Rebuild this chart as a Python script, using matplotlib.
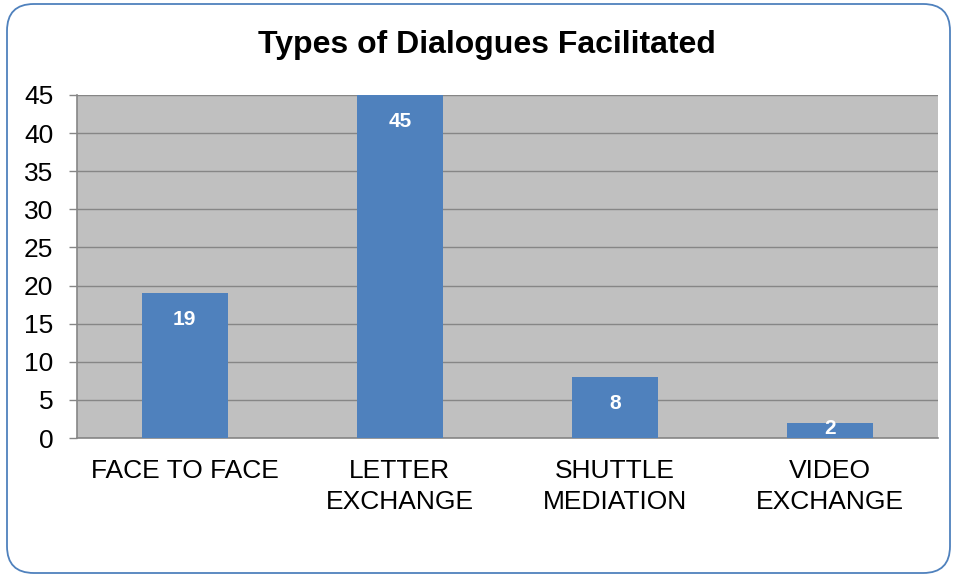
import matplotlib
matplotlib.use("Agg")
import matplotlib.pyplot as plt
from matplotlib.patches import FancyBboxPatch

categories = ["FACE TO FACE", "LETTER\nEXCHANGE", "SHUTTLE\nMEDIATION", "VIDEO\nEXCHANGE"]
values = [19, 45, 8, 2]
yticks = [0, 5, 10, 15, 20, 25, 30, 35, 40, 45]
title = "Types of Dialogues Facilitated"

plt.rcParams['font.family'] = ['Liberation Sans', 'DejaVu Sans']

fig = plt.figure(figsize=(9.57, 5.77), dpi=100)
border = FancyBboxPatch((7/957, 4/577), (950-7)/957, (573-4)/577,
                        boxstyle="round,pad=0,rounding_size=0.028",
                        transform=fig.transFigure, facecolor='none',
                        edgecolor='#4F81BD', linewidth=1.3, mutation_aspect=957/577,
                        zorder=5)
fig.patches.append(border)

ax = fig.add_axes([77/957, 1-438/577, (938-77)/957, (438-95)/577])
ax.set_facecolor('#C0C0C0')
x = range(len(categories))
ax.bar(x, values, width=0.4, color='#4F81BD', zorder=3)
ax.set_xlim(-0.5, len(categories)-0.5)
ax.set_ylim(0, 45)
ax.set_yticks(yticks)
ax.set_yticklabels([str(t) for t in yticks], fontsize=19)
ax.set_xticks(list(x))
ax.set_xticklabels(categories, fontsize=19, linespacing=1.4)
ax.tick_params(axis='x', length=0, pad=15)
ax.tick_params(axis='y', length=6, width=1, color='#868686', pad=11)
ax.grid(axis='y', color='#868686', linewidth=1, zorder=1)
for s in ['top', 'right']:
    ax.spines[s].set_visible(False)
ax.spines['left'].set_color('#868686')
ax.spines['left'].set_linewidth(1.2)
ax.spines['bottom'].set_color('#868686')
ax.spines['bottom'].set_linewidth(1.2)

for xi, v in zip(x, values):
    off = -19 if v >= 5 else -4
    ax.annotate(str(v), (xi, v), xytext=(0, off), textcoords='offset points',
                ha='center', va='center', color='white', fontsize=15,
                fontweight='bold', zorder=4)

fig.text(487/957, 1-45/577, title, ha='center', va='center', fontsize=23, fontweight='bold')

fig.savefig("out.png", dpi=100)
